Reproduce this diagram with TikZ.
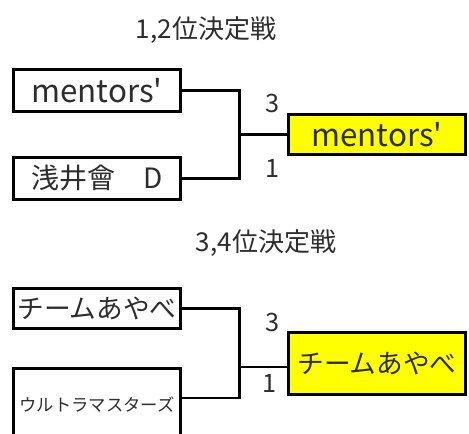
\documentclass[tikz,border=0pt]{standalone}
\usepackage{fontspec}
\newfontfamily\jfont{Noto Sans CJK JP}
\definecolor{txt}{RGB}{45,45,45}
\definecolor{winfill}{RGB}{255,255,0}
\tikzset{
  team/.style={draw,line width=2.25pt,minimum width=125.25pt,minimum height=31.5pt,inner sep=0pt,text=txt,font=\jfont\fontsize{21}{21}\selectfont},
  winner/.style={team,fill=winfill,minimum width=132.75pt},
  link/.style={line width=2pt},
  score/.style={text=txt,font=\jfont\fontsize{19}{19}\selectfont,inner sep=0pt},
  heading/.style={text=txt,font=\jfont\fontsize{19.5}{19.5}\selectfont,inner sep=0pt}
}
\begin{document}
\begin{tikzpicture}[x=0.75pt,y=-0.75pt]
\useasboundingbox (0,0) rectangle (469,434);
% 1,2
\node[heading] (t1) at (206,30) {1,2位決定戦};
\node[team,font=\jfont\fontsize{23.5}{23.5}\selectfont] (b1) at (97,90.5) {mentors'};
\node[team] (b2) at (97,178.5) {浅井會　D};
\node[winner,minimum height=30pt,font=\jfont\fontsize{23.5}{23.5}\selectfont] (w1) at (377,134.5) {mentors'};
\coordinate (j1) at (239.5,134.5);
\draw[link] (b1.east) -| (j1) |- (b2.east) (j1) -- (w1.west);
\node[score] (s1) at (273,103) {3};
\node[score] (s2) at (273,168) {1};
% 3,4
\node[heading] (t2) at (266,243) {3,4位決定戦};
\node[team,minimum height=30pt,font=\jfont\fontsize{20}{20}\selectfont] (b3) at (97,308.5) {チームあやべ};
\node[team,minimum height=54pt,font=\jfont\fontsize{13}{13}\selectfont] (b4) at (97,404.5) {ウルトラマスターズ};
\node[winner,minimum height=46.5pt,font=\jfont\fontsize{20}{20}\selectfont] (w2) at (377,363.5) {チームあやべ};
\coordinate (j2) at (239.5,367);
\draw[link] (b3.east) -| (j2) |- ([yshift=4.9pt]b4.east) (j2) -- (j2-|w2.west);
\node[score] (s3) at (273,322) {3};
\node[score] (s4) at (270,383) {1};
\end{tikzpicture}
\end{document}
